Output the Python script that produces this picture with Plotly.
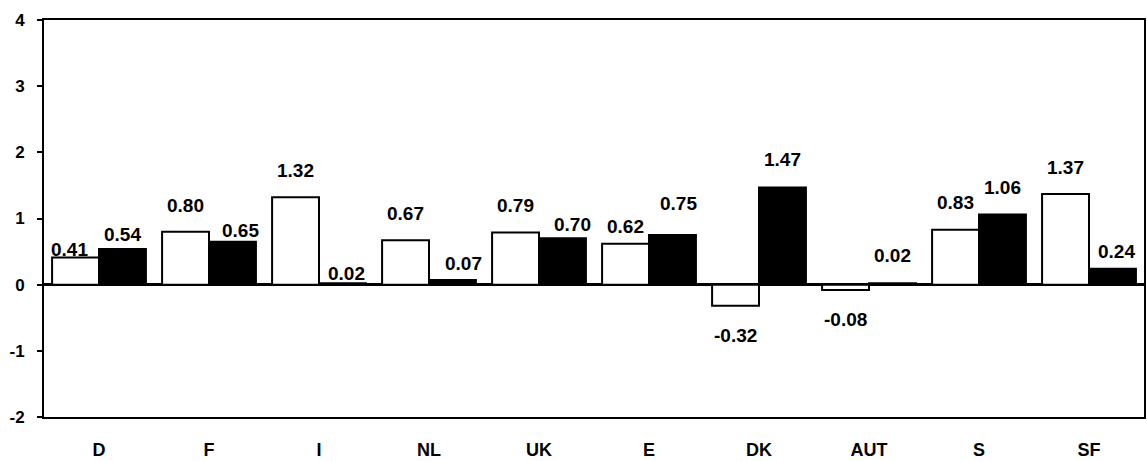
import plotly.graph_objects as go

categories = ["D", "F", "I", "NL", "UK", "E", "DK", "AUT", "S", "SF"]
series_white = [0.41, 0.80, 1.32, 0.67, 0.79, 0.62, -0.32, -0.08, 0.83, 1.37]
series_black = [0.54, 0.65, 0.02, 0.07, 0.70, 0.75, 1.47, 0.02, 1.06, 0.24]
label_white = ["0.41", "0.80", "1.32", "0.67", "0.79", "0.62", "-0.32", "-0.08", "0.83", "1.37"]
label_black = ["0.54", "0.65", "0.02", "0.07", "0.70", "0.75", "1.47", "0.02", "1.06", "0.24"]
y_ticks = [-2, -1, 0, 1, 2, 3, 4]
y_tick_text = ["-2", "-1", "0", "1", "2", "3", "4"]

# label placement tweaks (pixels): vertical gap from bar end to label centre, horizontal nudge
gap_white = [8, 26, 27, 27, 27, 17, 30, 30, 27, 27]
gap_black = [14, 11, 10, 17, 14, 32, 28, 28, 27, 17]
dx_white = [-6, 0, 0, 0, 0, 0, 0, 0, 0, 0]
dx_black = [0, 8, 4, 11, 10, 6, 0, 0, 0, 4]

FONT = "Liberation Sans, Arial, sans-serif"
BARGAP = 0.147
half = (1 - BARGAP) / 4  # offset of each bar centre from category centre

fig = go.Figure()
fig.add_trace(go.Bar(x=categories, y=series_white, marker=dict(color="white", line=dict(color="black", width=2)),
                     showlegend=False))
fig.add_trace(go.Bar(x=categories, y=series_black, marker=dict(color="black", line=dict(color="black", width=2)),
                     showlegend=False))

annotations = []
for i, cat in enumerate(categories):
    for vals, labs, gaps, dxs, sign in ((series_white, label_white, gap_white, dx_white, -1),
                                        (series_black, label_black, gap_black, dx_black, 1)):
        v = vals[i]
        annotations.append(dict(
            x=i + sign * half, y=v, xref="x", yref="y", text=labs[i], showarrow=False,
            xanchor="center", yanchor="middle", xshift=dxs[i],
            yshift=gaps[i] if v >= 0 else -gaps[i],
            font=dict(family=FONT, size=19, color="black", weight="bold"),
        ))

fig.update_layout(
    width=1147, height=461,
    margin=dict(l=44, r=1, t=20, b=44),
    paper_bgcolor="white", plot_bgcolor="white",
    barmode="group", bargap=BARGAP, bargroupgap=0,
    annotations=annotations,
    font=dict(family=FONT, color="black"),
)
fig.update_xaxes(
    type="category", showgrid=False, showline=True, linecolor="black", linewidth=2, mirror=True,
    ticks="", tickfont=dict(family=FONT, size=18, color="black", weight="bold"), ticklabelstandoff=15,
)
fig.update_yaxes(
    range=[-2, 4], tickvals=y_ticks, ticktext=y_tick_text, showgrid=False, showline=True,
    linecolor="black", linewidth=2, mirror=True, ticks="outside", ticklen=5, tickwidth=2, tickcolor="black",
    zeroline=True, zerolinecolor="black", zerolinewidth=3,
    tickfont=dict(family=FONT, size=17, color="black", weight="bold"), ticklabelstandoff=9,
)

fig.write_html("out.html", config={"displayModeBar": False},
               post_script="document.body.style.margin='0';document.body.style.padding='0';")
